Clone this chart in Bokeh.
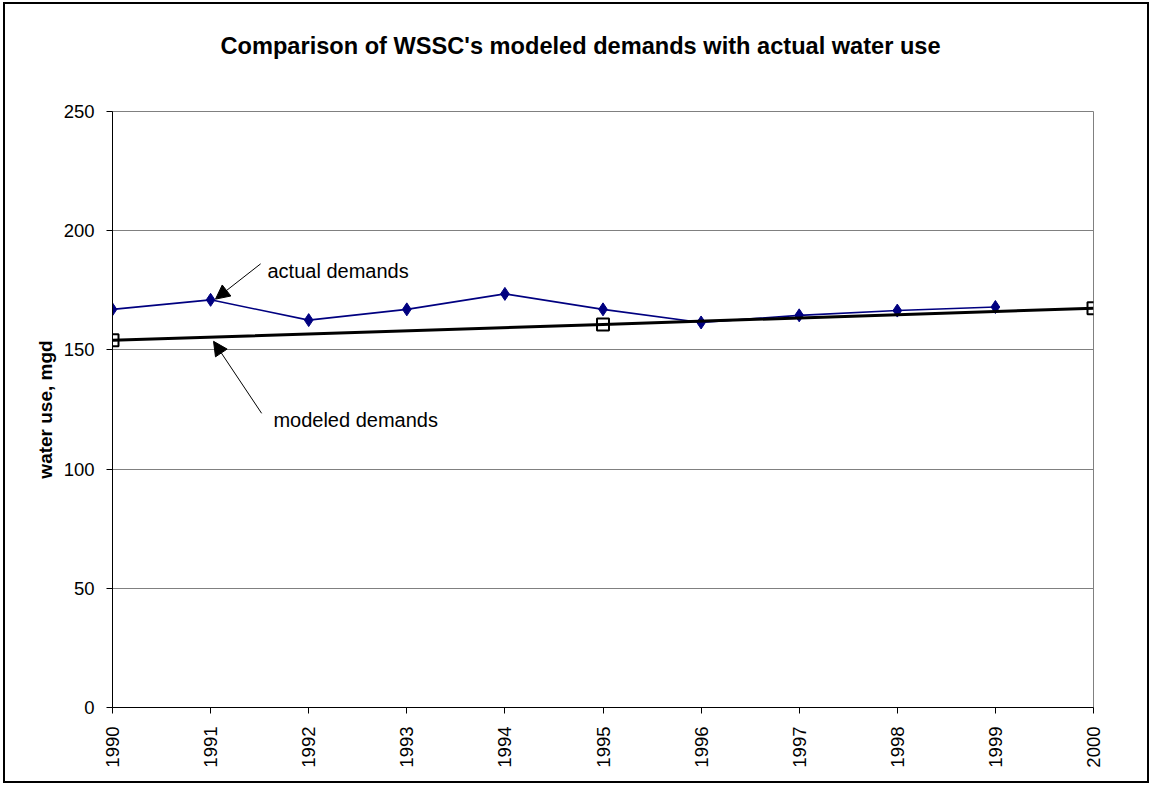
import math
from bokeh.plotting import figure
from bokeh.models import Range1d, FixedTicker, Label, Arrow, NormalHead, Title
from bokeh.embed import file_html
from bokeh.resources import INLINE

# ---- data ----
years = [1990, 1991, 1992, 1993, 1994, 1995, 1996, 1997, 1998, 1999, 2000]
year_labels = ["1990", "1991", "1992", "1993", "1994", "1995", "1996", "1997", "1998", "1999", "2000"]
actual_years = [1990, 1991, 1992, 1993, 1994, 1995, 1996, 1997, 1998, 1999]
actual_demand = [167, 171, 162.5, 167, 173.5, 167, 161.5, 164.5, 166.5, 168]
modeled_years = [1990, 1995, 2000]
modeled_demand = [154, 160.7, 167.5]
y_ticks = [0, 50, 100, 150, 200, 250]
title_text = "Comparison of WSSC's modeled demands with actual water use"
y_title = "water use, mgd"

FONT = "Liberation Sans"

p = figure(width=1146, height=781, output_backend="svg", toolbar_location=None,
           x_range=Range1d(1990, 2000), y_range=Range1d(0, 250),
           min_border_left=107, min_border_right=58, min_border_top=107,
           min_border_bottom=78)
p.styles = {"border": "2px solid black", "margin-left": "3px", "margin-top": "2px"}
p.background_fill_color = "white"
p.border_fill_color = "white"
p.outline_line_color = "#808080"
p.outline_line_width = 1

# spacer between plot area and title
p.add_layout(Title(text=" ", text_font_size="1px", standoff=50), "above")

# title
p.title.text = title_text
p.title.align = "left"
p.title.offset = 108
p.title.standoff = 0
p.title.text_font = FONT
p.title.text_font_size = "23.6px"
p.title.text_font_style = "bold"
p.title.text_color = "black"

# axes
p.xaxis.ticker = FixedTicker(ticks=years)
p.xaxis.major_label_overrides = {y: s for y, s in zip(years, year_labels)}
p.xaxis.major_label_orientation = math.pi / 2
p.yaxis.ticker = FixedTicker(ticks=y_ticks)
for ax in (p.xaxis[0], p.yaxis[0]):
    ax.axis_line_color = "black"
    ax.axis_line_width = 1
    ax.major_tick_line_color = "black"
    ax.major_tick_in = 0
    ax.major_tick_out = 6
    ax.minor_tick_line_color = None
    ax.major_label_text_font = FONT
    ax.major_label_text_font_size = "18.5px"
    ax.major_label_text_color = "black"
p.xaxis.major_label_standoff = 13
p.yaxis.major_label_standoff = 12
p.yaxis.axis_label = y_title
p.yaxis.axis_label_text_font = FONT
p.yaxis.axis_label_text_font_size = "19px"
p.yaxis.axis_label_text_font_style = "bold"
p.yaxis.axis_label_text_color = "black"
p.yaxis.axis_label_standoff = 5

p.xgrid.visible = False
p.ygrid.grid_line_color = "#808080"
p.ygrid.grid_line_width = 1

# series
p.line(actual_years, actual_demand, line_color="#000080", line_width=1.6)
p.scatter(actual_years, actual_demand, marker="diamond", size=13,
          fill_color="#000080", line_color="#000080")
p.line(modeled_years, modeled_demand, line_color="black", line_width=3)
p.scatter(modeled_years, modeled_demand, marker="square", size=12,
          fill_color=None, line_color="black", line_width=2)

# annotations
p.add_layout(Label(x=1991.58, y=183, text="actual demands", text_font=FONT,
                   text_font_size="20px", text_baseline="alphabetic", text_color="black"))
p.add_layout(Label(x=1991.64, y=120.4, text="modeled demands", text_font=FONT,
                   text_font_size="20px", text_baseline="alphabetic", text_color="black"))
p.add_layout(Arrow(x_start=1991.51, y_start=186.1, x_end=1991.05, y_end=171.3,
                   line_color="black", line_width=1,
                   end=NormalHead(size=14, fill_color="black", line_color="black")))
p.add_layout(Arrow(x_start=1991.52, y_start=123.4, x_end=1991.03, y_end=153.6,
                   line_color="black", line_width=1,
                   end=NormalHead(size=14, fill_color="black", line_color="black")))

open("out.html", "w").write(file_html(p, INLINE))
